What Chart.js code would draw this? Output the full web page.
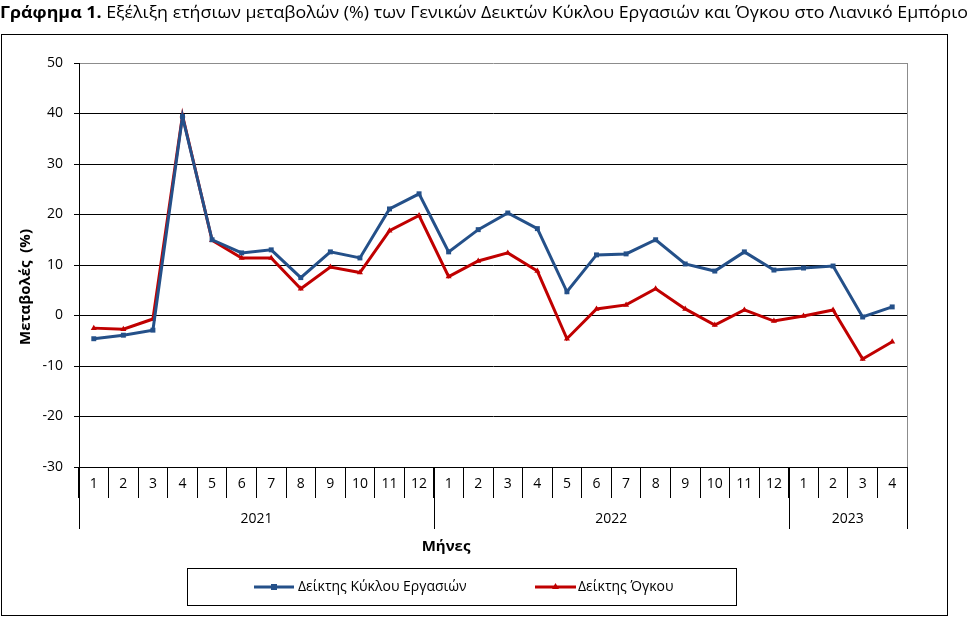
<!DOCTYPE html>
<html><head><meta charset="utf-8">
<script src="https://cdn.jsdelivr.net/npm/chart.js@4/dist/chart.umd.min.js"></script>
<style>html,body{margin:0;padding:0;background:#fff;}canvas{display:block}</style>
</head><body>
<canvas id="c" width="967" height="620"></canvas>
<script>
// ---- data ----
const months = ['1','2','3','4','5','6','7','8','9','10','11','12',
                '1','2','3','4','5','6','7','8','9','10','11','12',
                '1','2','3','4'];
const years = ['2021','2022','2023'];
const monthsPerYear = [12, 12, 4];
const turnoverIndex = [-4.6,-3.9,-2.9,39.4,15.0,12.4,13.0,7.5,12.6,11.4,21.1,24.1,
                       12.6,17.0,20.3,17.2,4.7,12.0,12.2,15.0,10.2,8.8,12.6,9.0,
                       9.4,9.8,-0.3,1.7];
const volumeIndex   = [-2.5,-2.7,-0.7,39.6,14.9,11.4,11.4,5.3,9.6,8.5,16.8,19.8,
                       7.7,10.8,12.4,8.8,-4.6,1.3,2.1,5.3,1.3,-1.9,1.1,-1.1,
                       -0.1,1.1,-8.6,-5.2];
const seriesNames = ['Δείκτης Κύκλου Εργασιών', 'Δείκτης Όγκου'];
const yMin = -30, yMax = 50, yStep = 10;
const titleBold = 'Γράφημα 1.';
const titleRest = ' Εξέλιξη ετήσιων μεταβολών (%) των Γενικών Δεικτών Κύκλου Εργασιών και Όγκου στο Λιανικό Εμπόριο';
const yTitle = 'Μεταβολές  (%)';
const xTitle = 'Μήνες';

const FONT = '"Open Sans", "Noto Sans", sans-serif';
const BLUE = '#245089';
const RED = '#C00000';

const decor = {
  id: 'decor',
  afterDraw(chart) {
    const ctx = chart.ctx;
    const x = chart.scales.x, ca = chart.chartArea;
    ctx.save();
    // outer frame
    ctx.strokeStyle = '#000'; ctx.lineWidth = 1;
    ctx.strokeRect(1.5, 34.5, 946, 581);
    // right plot border
    ctx.strokeStyle = '#8c8c8c';
    ctx.beginPath(); ctx.moveTo(ca.right + 0.5, ca.top); ctx.lineTo(ca.right + 0.5, ca.bottom); ctx.stroke();
    // year separators + labels
    ctx.strokeStyle = '#000';
    let start = 0;
    const bounds = [0];
    monthsPerYear.forEach(n => { start += n; bounds.push(start); });
    bounds.forEach(b => {
      const px = Math.round(x.getPixelForValue(b - 0.5)) + 0.5;
      ctx.beginPath(); ctx.moveTo(px, ca.bottom); ctx.lineTo(px, 529); ctx.stroke();
    });
    ctx.fillStyle = '#000';
    ctx.font = '14px ' + FONT;
    ctx.textAlign = 'center'; ctx.textBaseline = 'middle';
    for (let i = 0; i < years.length; i++) {
      const c = x.getPixelForValue((bounds[i] + bounds[i + 1] - 1) / 2);
      ctx.fillText(years[i], c, 519);
    }
    // x title
    ctx.font = 'bold 15px ' + FONT;
    ctx.fillText(xTitle, 446, 547);
    // y title
    ctx.save();
    ctx.translate(26, 287); ctx.rotate(-Math.PI / 2);
    ctx.fillText(yTitle, 0, 0);
    ctx.restore();
    // main title
    ctx.textAlign = 'left';
    ctx.font = 'bold 16px ' + FONT;
    const wb = ctx.measureText(titleBold).width;
    ctx.font = '16px ' + FONT;
    const wr = ctx.measureText(titleRest).width;
    const sx = 968 / (wb + wr);
    ctx.save();
    ctx.scale(sx, 1);
    ctx.font = 'bold 16px ' + FONT;
    ctx.fillText(titleBold, 0, 13);
    ctx.font = '16px ' + FONT;
    ctx.fillText(titleRest, wb, 13);
    ctx.restore();
    // legend
    ctx.strokeStyle = '#000';
    ctx.strokeRect(187.5, 568.5, 549, 37);
    const items = [{x0: 254, x1: 294, tx: 298}, {x0: 535, x1: 576, tx: 578}];
    chart.data.datasets.forEach((ds, i) => {
      const it = items[i], ly = 587;
      ctx.strokeStyle = ds.borderColor; ctx.lineWidth = 3;
      ctx.beginPath(); ctx.moveTo(it.x0, ly); ctx.lineTo(it.x1, ly); ctx.stroke();
      ctx.fillStyle = ds.borderColor;
      const mx = (it.x0 + it.x1) / 2;
      if (ds.pointStyle === 'rect') { ctx.fillRect(mx - 3, ly - 3, 6, 6); }
      else { ctx.beginPath(); ctx.moveTo(mx, ly - 4); ctx.lineTo(mx + 3.5, ly + 2); ctx.lineTo(mx - 3.5, ly + 2); ctx.closePath(); ctx.fill(); }
      ctx.fillStyle = '#000';
      ctx.font = '14px ' + FONT; ctx.textBaseline = 'middle';
      ctx.fillText(ds.label, it.tx, ly);
    });
    ctx.restore();
  }
};

new Chart(document.getElementById('c'), {
  type: 'line',
  data: {
    labels: months,
    datasets: [
      {label: seriesNames[0], data: turnoverIndex, borderColor: BLUE, backgroundColor: BLUE,
       borderWidth: 3, pointStyle: 'rect', pointRadius: 3.5, pointBorderWidth: 0, tension: 0},
      {label: seriesNames[1], data: volumeIndex, borderColor: RED, backgroundColor: RED,
       borderWidth: 3, pointStyle: 'triangle', pointRadius: 3.5, pointBorderWidth: 0, tension: 0}
    ]
  },
  options: {
    responsive: false, animation: false, devicePixelRatio: 1,
    layout: {padding: {left: 0, top: 63, right: 60, bottom: 0}},
    plugins: {legend: {display: false}, tooltip: {enabled: false}},
    scales: {
      x: {
        type: 'category', offset: true,
        afterFit(s) { s.height = 153; },
        grid: {offset: true, drawOnChartArea: false, drawTicks: true, tickLength: 31, color: '#000', lineWidth: 1},
        border: {display: true, color: '#000', width: 1},
        ticks: {autoSkip: false, maxRotation: 0, padding: -22, color: '#000', font: {family: FONT, size: 14}}
      },
      y: {
        min: yMin, max: yMax,
        afterFit(s) { s.width = 79; },
        ticks: {stepSize: yStep, padding: 11, color: '#000', font: {family: FONT, size: 14}},
        grid: {color: c => c.tick && c.tick.value === yMax ? '#8c8c8c' : '#000', tickColor: '#000', tickLength: 5, lineWidth: 1},
        border: {display: true, color: '#000', width: 1}
      }
    }
  },
  plugins: [decor]
});
</script>
</body></html>
